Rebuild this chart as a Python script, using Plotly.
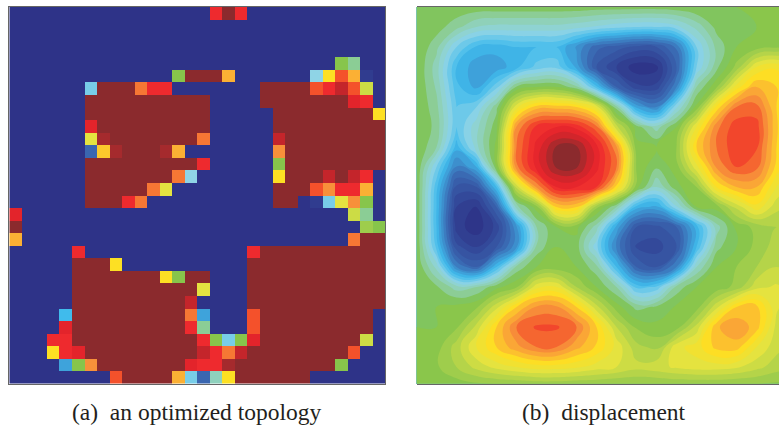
import plotly.graph_objects as go

W, H = 779, 425

# Shared colour scale on z in [-1, 1]
scale_z = [-1, -0.7, -0.42, -0.25, -0.1, 0, 0.12, 0.28, 0.4, 0.5, 0.58, 0.68, 0.78, 0.85, 0.92, 0.96, 1]
scale_c = ["#2e3388", "#3a66b0", "#40bbec", "#8fd4e6", "#8fd0a8", "#7dc24b", "#a5cf4c", "#e4e340",
           "#fde023", "#fbb034", "#f7903a", "#f4512b", "#ee2a2e", "#e3242b", "#c4252b", "#a52a2d", "#8b2a2d"]
colorscale = [[(z + 1) / 2, c] for z, c in zip(scale_z, scale_c)]

# (a) element densities, one character per cell
codes = {".": -1, "B": -0.95, "b": -0.7, "s": -0.5, "c": -0.42, "p": -0.3, "q": -0.25, "m": -0.15,
         "n": -0.08, "g": 0.03, "l": 0.1, "h": 0.22, "e": 0.28, "y": 0.4, "t": 0.45, "a": 0.5,
         "o": 0.58, "O": 0.62, "f": 0.68, "r": 0.78, "R": 0.85, "w": 0.92, "W": 0.96, "#": 1}
density_rows = [
    "................r#r...........",
    "..............................",
    "..............................",
    "..............................",
    "..........................gn..",
    ".............g###a......qyfaB.",
    "......p###Orr.......####frwfh.",
    "......##########....#######Rr.",
    "......##########.....########y",
    "......R#########.....#########",
    "......eW#######O.....w########",
    "......btW###Wa.......o########",
    "......#########r.....g########",
    "......#######Oq......y###w#wr.",
    "......#####Oe........###forra.",
    "......###rO..........##.Bpeog.",
    "R..........................hn.",
    "#...........................lg",
    "a..........................O##",
    ".....r.............r##########",
    ".....###y..........###########",
    ".....#######yg##...###########",
    ".....##########e...###########",
    ".....#########w....###########",
    "....c#########Os...f#########.",
    "....R#########rn...f#########.",
    "...rr##########rgpgR########h.",
    "...yrR#########wrOw########f..",
    "....sgo#######RrrW########g...",
    "........f####apbmy######......",
]
density = [[codes[ch] for ch in row] for row in density_rows]

# (b) displacement
disp_x = [0, 20, 40, 60, 80, 100, 120, 140, 160, 180, 200, 220, 240, 260, 280, 300, 320, 340, 360, 380]
disp_y = [0, 20, 40, 60, 80, 100, 120, 140, 160, 180, 200, 220, 240, 260, 280, 300, 320, 340, 360, 377]
disp = [
    [0, 0, -0.01, -0.02, -0.02, -0.02, -0.02, -0.02, -0.02, -0.03, -0.03, -0.03, -0.03, -0.02, 0, 0, 0, 0.01, 0.03, 0.05],
    [0, -0.03, -0.1, -0.18, -0.2, -0.2, -0.2, -0.2, -0.22, -0.25, -0.28, -0.3, -0.3, -0.26, -0.16, -0.04, 0, 0, 0.03, 0.05],
    [0, -0.1, -0.3, -0.43, -0.45, -0.42, -0.42, -0.42, -0.55, -0.7, -0.75, -0.8, -0.78, -0.65, -0.3, -0.1, 0, 0.03, 0.05, 0.08],
    [0, -0.15, -0.42, -0.52, -0.52, -0.44, -0.34, -0.32, -0.5, -0.78, -0.9, -1.0, -0.98, -0.72, -0.3, -0.08, 0.08, 0.3, 0.35, 0.25],
    [0, -0.13, -0.4, -0.5, -0.32, -0.05, 0, 0, -0.1, -0.4, -0.72, -0.88, -0.88, -0.6, -0.12, 0.05, 0.33, 0.48, 0.42, 0.25],
    [0, -0.1, -0.36, -0.3, -0.08, 0.28, 0.45, 0.45, 0.42, 0.28, -0.1, -0.5, -0.6, -0.25, 0.02, 0.38, 0.6, 0.62, 0.42, 0.28],
    [0, -0.08, -0.36, -0.2, -0.02, 0.55, 0.74, 0.78, 0.76, 0.62, 0.2, -0.03, -0.15, 0, 0.3, 0.58, 0.7, 0.69, 0.43, 0.28],
    [0, -0.12, -0.45, -0.2, 0.02, 0.6, 0.8, 0.97, 0.97, 0.8, 0.55, 0.02, 0, 0.06, 0.42, 0.6, 0.71, 0.67, 0.42, 0.25],
    [0, -0.3, -0.62, -0.48, 0, 0.58, 0.8, 0.97, 0.97, 0.8, 0.6, 0.05, -0.05, 0.03, 0.28, 0.55, 0.66, 0.62, 0.4, 0.25],
    [0, -0.4, -0.8, -0.78, -0.42, 0.2, 0.55, 0.78, 0.78, 0.72, 0.4, 0.03, -0.18, -0.02, 0.06, 0.36, 0.48, 0.48, 0.3, 0.2],
    [0, -0.42, -0.9, -0.97, -0.72, -0.15, 0.03, 0.42, 0.42, 0.08, -0.12, -0.45, -0.5, -0.25, 0, 0.03, 0.2, 0.34, 0.2, 0.15],
    [0, -0.42, -0.93, -1.0, -0.88, -0.55, -0.12, 0, 0.02, -0.15, -0.5, -0.78, -0.8, -0.72, -0.45, -0.15, 0.02, 0.08, 0.12, 0.12],
    [0, -0.38, -0.82, -0.9, -0.78, -0.55, -0.1, 0, -0.03, -0.28, -0.62, -0.85, -0.87, -0.78, -0.42, -0.08, 0, 0.08, 0.15, 0.15],
    [0, -0.2, -0.6, -0.72, -0.42, -0.1, 0, 0.02, 0, -0.1, -0.42, -0.72, -0.78, -0.6, -0.18, 0, 0.06, 0.12, 0.18, 0.15],
    [0, -0.05, -0.15, -0.12, -0.02, 0.05, 0.28, 0.3, 0.12, 0, -0.12, -0.38, -0.35, -0.1, 0, 0.02, 0.08, 0.22, 0.25, 0.2],
    [0, 0, 0.02, 0.05, 0.22, 0.42, 0.55, 0.55, 0.42, 0.2, 0.03, -0.08, -0.05, 0.01, 0.03, 0.22, 0.42, 0.44, 0.25, 0.18],
    [0, 0, 0.05, 0.2, 0.42, 0.6, 0.67, 0.67, 0.6, 0.42, 0.18, 0.05, 0.02, 0.03, 0.2, 0.47, 0.53, 0.45, 0.22, 0.15],
    [0.02, 0.03, 0.15, 0.3, 0.42, 0.52, 0.6, 0.6, 0.5, 0.41, 0.28, 0.14, 0.1, 0.28, 0.33, 0.44, 0.45, 0.3, 0.2, 0.15],
    [0.02, 0.05, 0.12, 0.2, 0.26, 0.3, 0.33, 0.33, 0.31, 0.27, 0.24, 0.2, 0.22, 0.25, 0.27, 0.27, 0.25, 0.2, 0.15, 0.12],
    [0.01, 0.02, 0.03, 0.05, 0.06, 0.07, 0.08, 0.08, 0.07, 0.07, 0.06, 0.06, 0.06, 0.07, 0.07, 0.07, 0.06, 0.06, 0.05, 0.05],
]

captions = ["(a)  an optimized topology", "(b)  displacement"]

fig = go.Figure()
fig.add_trace(go.Heatmap(z=density, zmin=-1, zmax=1, colorscale=colorscale, showscale=False,
                         xaxis="x", yaxis="y", xgap=0, ygap=0))
fig.add_trace(go.Contour(x=disp_x, y=disp_y, z=disp, zmin=-1, zmax=1, colorscale=colorscale,
                         showscale=False, xaxis="x2", yaxis="y2",
                         contours=dict(coloring="fill", start=-1.02, end=1.0, size=0.06, showlines=False),
                         line=dict(width=0, smoothing=1.3)))

axis = dict(showgrid=False, zeroline=False, showticklabels=False, ticks="", showline=True,
            mirror=True, linecolor="#666666", linewidth=1)
fig.update_layout(
    width=W, height=H, margin=dict(l=0, r=0, t=0, b=0), paper_bgcolor="white", plot_bgcolor="white",
    showlegend=False,
    xaxis=dict(axis, domain=[9.3 / W, 385 / W], range=[-0.5, 29.5]),
    yaxis=dict(axis, domain=[1 - 383.5 / H, 1 - 7 / H], range=[29.5, -0.5]),
    xaxis2=dict(axis, domain=[416.5 / W, 1], range=[0, 362.5]),
    yaxis2=dict(axis, domain=[1 - 383.5 / H, 1 - 7 / H], range=[376.5, 0]),
    annotations=[
        dict(text=captions[0], x=197 / W, y=1 - 412 / H, xref="paper", yref="paper", showarrow=False,
             xanchor="center", yanchor="middle", font=dict(family="Liberation Serif", size=23.5, color="#231f20")),
        dict(text=captions[1], x=604 / W, y=1 - 412 / H, xref="paper", yref="paper", showarrow=False,
             xanchor="center", yanchor="middle", font=dict(family="Liberation Serif", size=23.5, color="#231f20")),
    ],
)
fig.write_html("out.html", post_script="document.body.style.margin='0';", config={"displayModeBar": False})
